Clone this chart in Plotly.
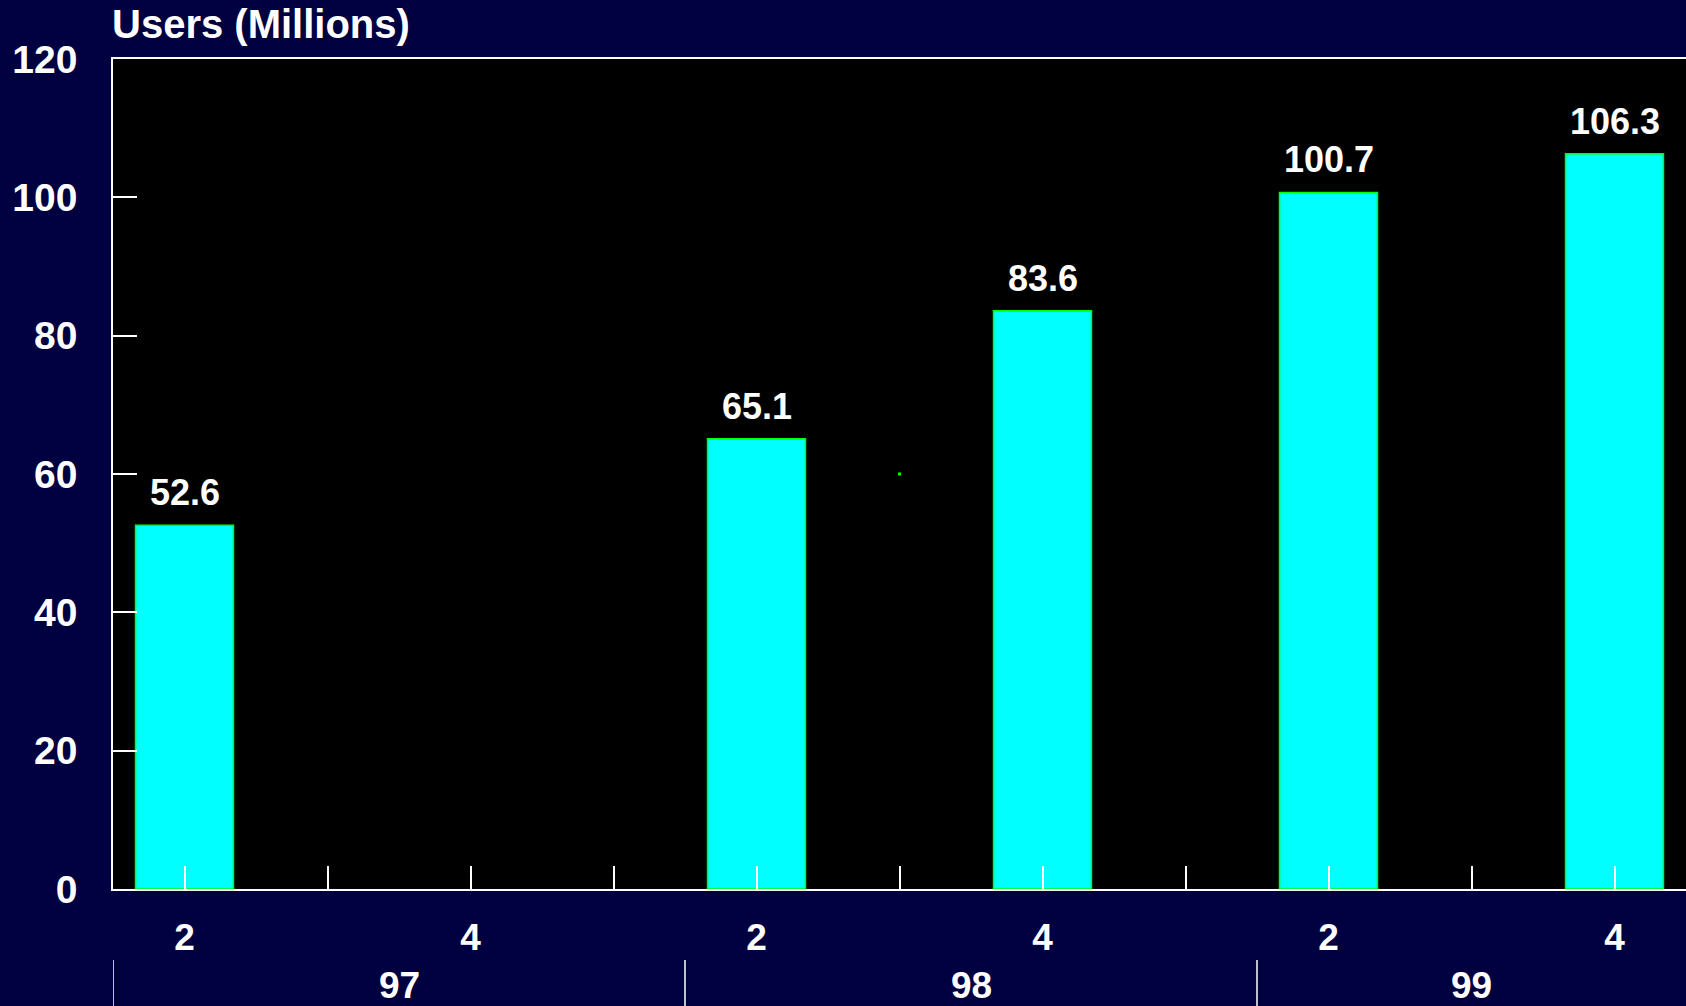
import plotly.graph_objects as go

# Half-year slots from 97 through 99 (11 positions on the axis)
slot_labels = ["2", "", "4", "", "2", "", "4", "", "2", "", "4"]
years = ["97", "98", "99"]
year_centers = [1.5, 5.5, 9.0]
year_bounds = [-0.5, 3.5, 7.5]

bar_slots = [0, 4, 6, 8, 10]
users_millions = [52.6, 65.1, 83.6, 100.7, 106.3]

# stray marker inside the plot area
dot_x = [5]
dot_y = [60]

NAVY = "#000040"
FONT = "Liberation Sans, Arial, sans-serif"

fig = go.Figure()
fig.add_trace(go.Bar(
    x=bar_slots, y=users_millions, width=0.685,
    marker=dict(color="#00FFFF", line=dict(color="#00FF00", width=1.5)),
    hoverinfo="x+y", showlegend=False,
))
fig.add_trace(go.Scatter(
    x=dot_x, y=dot_y, mode="markers",
    marker=dict(color="#00FF00", size=3, symbol="square"),
    showlegend=False, hoverinfo="skip",
))

# value labels above bars
for xs, v in zip(bar_slots, users_millions):
    fig.add_annotation(x=xs, y=v, xref="x", yref="y", text=f"{v:.1f}",
                       showarrow=False, yanchor="bottom", yshift=10,
                       font=dict(family=FONT, size=36, color="white", weight="bold"))

# year labels and dividers below the axis
for yr, xc in zip(years, year_centers):
    fig.add_annotation(x=xc, y=-0.1157, xref="x", yref="paper", text=yr,
                       showarrow=False, yanchor="middle",
                       font=dict(family=FONT, size=37, color="white", weight="bold"))
for xb in year_bounds:
    fig.add_shape(type="line", xref="x", yref="paper", x0=xb, x1=xb,
                  y0=-0.0855, y1=-0.15, line=dict(color="white", width=1.5))

fig.add_annotation(x=-0.002, y=1.042, xref="paper", yref="paper", text="Users (Millions)",
                   showarrow=False, xanchor="left", yanchor="middle",
                   font=dict(family=FONT, size=40, color="white", weight="bold"))

fig.update_layout(
    width=1686, height=1006,
    margin=dict(l=113, r=0, t=59, b=117),
    paper_bgcolor=NAVY, plot_bgcolor="black",
    xaxis=dict(
        range=[-0.5, 10.5], tickmode="array", tickvals=list(range(11)),
        ticktext=slot_labels, ticks="inside", ticklen=23, tickwidth=1.5,
        tickcolor="white", showline=True, linecolor="white", linewidth=1.5,
        mirror=True, showgrid=False, zeroline=False, ticklabelstandoff=15,
        tickfont=dict(family=FONT, size=37, color="white", weight="bold"),
    ),
    yaxis=dict(
        range=[0, 120], tickvals=[0, 20, 40, 60, 80, 100, 120],
        ticks="inside", ticklen=24, tickwidth=1.5, tickcolor="white",
        showline=True, linecolor="white", linewidth=1.5,
        showgrid=False, zeroline=False, ticklabelstandoff=26,
        tickfont=dict(family=FONT, size=39, color="white", weight="bold"),
    ),
)

fig.write_html("out.html")
